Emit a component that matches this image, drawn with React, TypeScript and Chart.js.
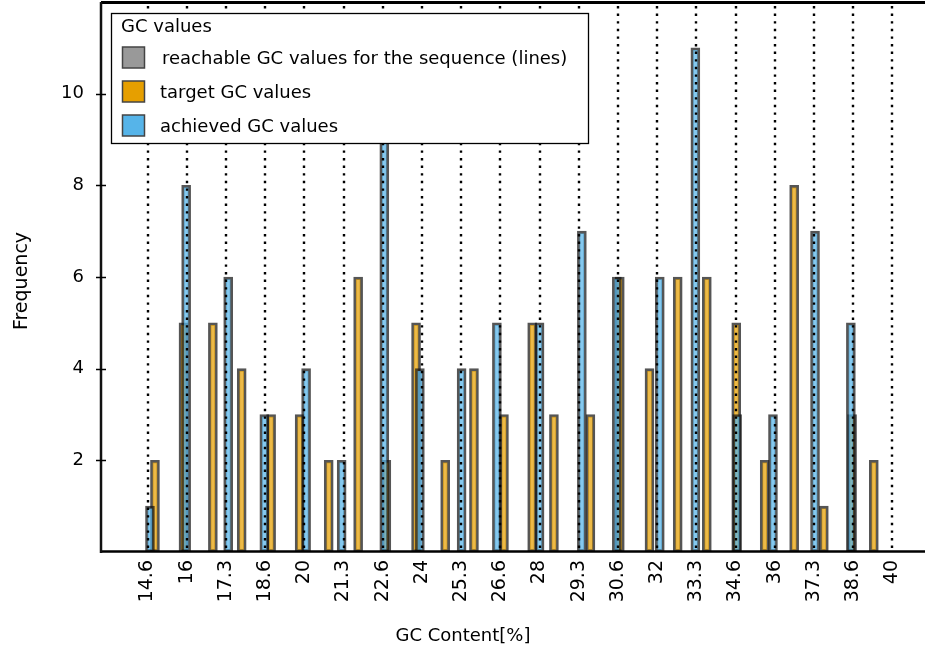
import React, { useEffect, useRef } from "react";
import { Chart, registerables } from "chart.js";

Chart.register(...registerables);

// reachable GC values (dotted lines) and their tick labels
const reachableGC = [14.667, 16, 17.333, 18.667, 20, 21.333, 22.667, 24, 25.333, 26.667, 28, 29.333, 30.667, 32, 33.333, 34.667, 36, 37.333, 38.667, 40];
const xTickLabels = ["14.6", "16", "17.3", "18.6", "20", "21.3", "22.6", "24", "25.3", "26.6", "28", "29.3", "30.6", "32", "33.3", "34.6", "36", "37.3", "38.6", "40"];

// target GC values histogram
const targetGC = [14.92, 15.89, 16.89, 17.87, 18.87, 19.84, 20.83, 21.83, 22.79, 23.8, 24.79, 25.77, 26.79, 27.75, 28.49, 29.73, 30.73, 31.74, 32.7, 33.69, 34.69, 35.66, 36.66, 37.67, 38.63, 39.37];
const targetCounts = [2, 5, 5, 4, 3, 3, 2, 6, 2, 5, 2, 4, 3, 5, 3, 3, 6, 4, 6, 6, 5, 2, 8, 1, 3, 2];

// achieved GC values histogram
const achievedGC = [14.75, 15.98, 17.41, 18.64, 20.06, 21.27, 22.72, 23.93, 25.35, 26.55, 28.0, 29.44, 30.63, 32.09, 33.3, 34.72, 35.94, 37.37, 38.59];
const achievedCounts = [1, 8, 6, 3, 4, 2, 10, 4, 4, 5, 5, 7, 6, 6, 11, 3, 3, 7, 5];

const yTickValues = [0, 2, 4, 6, 8, 10, 12];
const yTickLabels = [null, "2", "4", "6", "8", "10", null];
const legendTitle = "GC values";
const legendLabels = ["reachable GC values for the sequence (lines)", "target GC values", "achieved GC values"];
const legendColors = ["#999999", "#E69F00", "#56B4E9"];
const xTitle = "GC Content[%]";
const yTitle = "Frequency";

const FONT = '18px "DejaVu Sans"';

const overlayPlugin = {
  id: "overlay",
  afterDatasetsDraw(chart: any) {
    const { ctx, chartArea, scales } = chart;
    const x = scales.x;
    const y = scales.y;
    ctx.save();
    // dotted reachable lines
    ctx.strokeStyle = "#000";
    ctx.lineWidth = 2.4;
    ctx.setLineDash([2.4, 5.2]);
    reachableGC.forEach((v) => {
      const px = Math.round(x.getPixelForValue(v));
      ctx.beginPath();
      ctx.moveTo(px, chartArea.top + 4);
      ctx.lineTo(px, chartArea.bottom);
      ctx.stroke();
    });
    ctx.setLineDash([]);
    // spines
    ctx.strokeStyle = "#000";
    ctx.lineWidth = 3;
    ctx.beginPath();
    ctx.moveTo(chartArea.left, chartArea.top + 0.5);
    ctx.lineTo(chartArea.right, chartArea.top + 0.5);
    ctx.stroke();
    ctx.lineWidth = 2.5;
    ctx.beginPath();
    ctx.moveTo(chartArea.left, chartArea.bottom - 0.5);
    ctx.lineTo(chartArea.right, chartArea.bottom - 0.5);
    ctx.stroke();
    ctx.strokeStyle = "#111";
    ctx.beginPath();
    ctx.moveTo(chartArea.left, chartArea.top);
    ctx.lineTo(chartArea.left, chartArea.bottom + 1);
    ctx.stroke();
    // y tick marks (in-out)
    ctx.lineWidth = 1.5;
    ctx.strokeStyle = "#000";
    yTickValues.forEach((v, i) => {
      if (yTickLabels[i] === null) return;
      const py = Math.round(y.getPixelForValue(v)) + 0.5;
      ctx.beginPath();
      ctx.moveTo(chartArea.left - 5, py);
      ctx.lineTo(chartArea.left + 5, py);
      ctx.stroke();
    });
    ctx.restore();
  },
  afterDraw(chart: any) {
    const { ctx } = chart;
    ctx.save();
    // legend box
    ctx.fillStyle = "#fff";
    ctx.fillRect(111, 13, 478, 131);
    ctx.strokeStyle = "#000";
    ctx.lineWidth = 1.3;
    ctx.strokeRect(111.5, 13.5, 477, 130);
    ctx.font = FONT;
    ctx.fillStyle = "#000";
    ctx.textBaseline = "alphabetic";
    ctx.textAlign = "left";
    ctx.fillText(legendTitle, 121, 32);
    const tops = [47, 81, 115];
    const textX = [162, 160, 160];
    legendLabels.forEach((lab, i) => {
      ctx.fillStyle = legendColors[i];
      ctx.fillRect(122.5, tops[i], 22, 21);
      ctx.strokeStyle = "#444";
      ctx.lineWidth = 1.5;
      ctx.strokeRect(122.5, tops[i], 22, 21);
      ctx.fillStyle = "#000";
      ctx.fillText(lab, textX[i], tops[i] + 17);
    });
    // axis titles
    ctx.textAlign = "center";
    ctx.textBaseline = "middle";
    ctx.fillText(xTitle, 463, 636);
    ctx.font = '19px "DejaVu Sans"';
    ctx.translate(22, 281);
    ctx.rotate(-Math.PI / 2);
    ctx.fillText(yTitle, 0, 0);
    ctx.restore();
  },
};

export default function App() {
  const ref = useRef<HTMLCanvasElement>(null);
  useEffect(() => {
    document.body.style.margin = "0";
    const canvas = ref.current!;
    const barStyle = {
      borderColor: "rgba(20,20,20,0.72)",
      borderWidth: 2.6,
      barThickness: 9,
      grouped: false,
      borderSkipped: false as const,
    };
    const chart = new Chart(canvas, {
      type: "bar",
      data: {
        datasets: [
          {
            label: "achieved GC values",
            data: achievedGC.map((v, i) => ({ x: v, y: achievedCounts[i] })),
            backgroundColor: "rgba(86,180,233,0.72)",
            ...barStyle,
          },
          {
            label: "target GC values",
            data: targetGC.map((v, i) => ({ x: v, y: targetCounts[i] })),
            backgroundColor: "rgba(230,159,0,0.72)",
            ...barStyle,
          },
        ] as any,
      },
      options: {
        responsive: false,
        animation: false,
        layout: { padding: { top: 2, left: 0, right: 0, bottom: 0 } },
        plugins: { legend: { display: false }, tooltip: { enabled: false } },
        scales: {
          x: {
            type: "linear",
            min: 13.785,
            max: 40.41,
            afterFit: (s: any) => {
              s.height = 103;
              s.paddingLeft = 0;
              s.paddingRight = 0;
              s.paddingTop = 0;
              s.paddingBottom = 0;
            },
            afterBuildTicks: (s: any) => {
              s.ticks = reachableGC.map((v) => ({ value: v }));
            },
            ticks: {
              autoSkip: false,
              minRotation: 90,
              maxRotation: 90,
              padding: 0,
              color: "#000",
              font: { family: "DejaVu Sans", size: 19 },
              callback: (_v: any, i: number) => xTickLabels[i],
            },
            grid: { display: true, drawOnChartArea: false, drawTicks: true, tickLength: 8, color: "rgba(0,0,0,0)" },
            border: { display: false },
          },
          y: {
            min: 0,
            max: 12,
            afterFit: (s: any) => {
              s.width = 101;
              s.paddingLeft = 0;
              s.paddingRight = 0;
              s.paddingTop = 0;
              s.paddingBottom = 0;
            },
            afterBuildTicks: (s: any) => {
              s.ticks = yTickValues.map((v) => ({ value: v }));
            },
            ticks: {
              padding: 0,
              color: "#000",
              font: { family: "DejaVu Sans", size: 18 },
              callback: (_v: any, i: number) => yTickLabels[i],
            },
            grid: { display: true, drawOnChartArea: false, drawTicks: true, tickLength: 17, color: "rgba(0,0,0,0)" },
            border: { display: false },
          },
        },
      } as any,
      plugins: [overlayPlugin],
    });
    return () => chart.destroy();
  }, []);
  return (
    <div style={{ width: 925, height: 655 }}>
      <canvas ref={ref} width={925} height={655} style={{ display: "block" }} />
    </div>
  );
}
